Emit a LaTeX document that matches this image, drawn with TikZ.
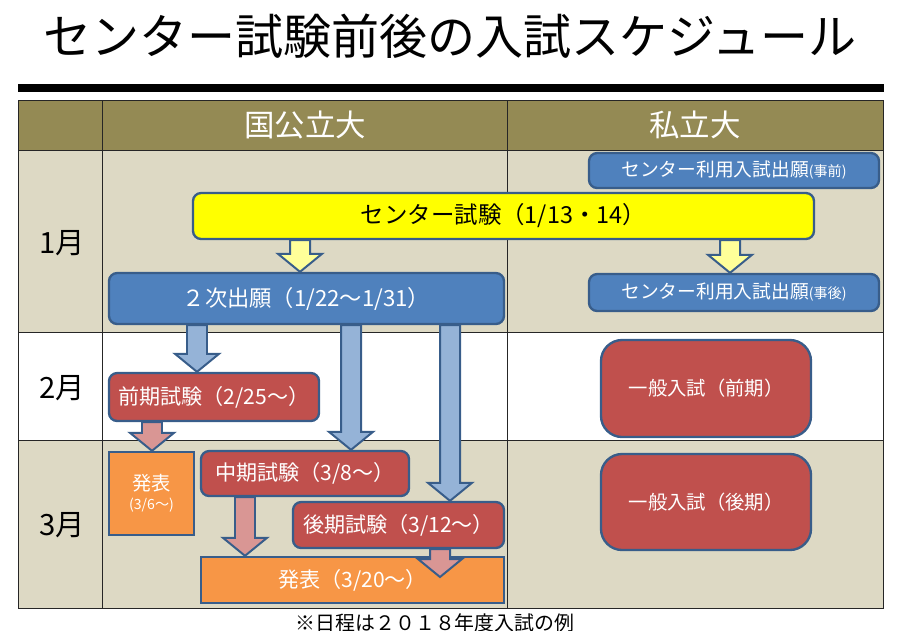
\documentclass[tikz,border=0pt]{standalone}
\usepackage{fontspec}
\setmainfont{Noto Sans CJK JP}
\usepackage{tikz}
\usetikzlibrary{calc}
\definecolor{headolive}{HTML}{948A54}
\definecolor{rowtan}{HTML}{DDD9C4}
\definecolor{boxline}{HTML}{385D8A}
\definecolor{bluebox}{HTML}{4F81BD}
\definecolor{redbox}{HTML}{C0504D}
\definecolor{orangebox}{HTML}{F79646}
\definecolor{yellowbox}{HTML}{FFFF00}
\definecolor{bluearrow}{HTML}{95B3D7}
\definecolor{pinkarrow}{HTML}{D99694}
\definecolor{yellowarrow}{HTML}{FFFF99}
\definecolor{gridline}{HTML}{262626}
% fat block arrow: fill, x, from, to
\newcommand{\fatarrow}[4]{%
  \filldraw[fill=#1, draw=boxline, line width=1.7pt]
    (#2-10,0 |- #3) -- (#2+10,0 |- #3) -- ($(#2+10,0 |- #4)+(0,-18)$)
    -- ($(#2+22,0 |- #4)+(0,-18)$) -- (#2,0 |- #4)
    -- ($(#2-22,0 |- #4)+(0,-18)$) -- ($(#2-10,0 |- #4)+(0,-18)$) -- cycle;}

\begin{document}
\begin{tikzpicture}[x=0.03cm, y=-0.03cm,
    box/.style={draw=boxline, line width=2pt, rounded corners=7pt, text=white, inner sep=0pt},
    bluebx/.style={box, fill=bluebox},
    redbx/.style={box, fill=redbox},
    orangebx/.style={box, fill=orangebox, rounded corners=0pt},
    month/.style={font=\fontsize{25}{28}\selectfont},
    head/.style={font=\fontsize{26}{28}\selectfont, text=white},
    txt/.style={font=\fontsize{18}{20}\selectfont}]
  \useasboundingbox (0,0) rectangle (900,630);

  % title and bar
  \node[font=\fontsize{41}{44}\selectfont] (title) at (450,36) {センター試験前後の入試スケジュール};
  \fill (18,84) rectangle (884,92);

  % table
  \fill[headolive] (18,100) rectangle (883,150);
  \fill[rowtan] (18,150) rectangle (883,332);
  \fill[rowtan] (18,440) rectangle (883,608);
  \draw[gridline, line width=0.6pt] (18,100) rectangle (883,608)
    (102,100) -- (102,608) (507,100) -- (507,608)
    (18,150) -- (883,150) (18,332) -- (883,332) (18,440) -- (883,440);
  \node[head] (kokkoritsu) at (305,125) {国公立大};
  \node[head] (shiritsu) at (695,125) {私立大};
  \node[month] (jan) at (62,243) {1月};
  \node[month] (feb) at (62,388) {2月};
  \node[month] (mar) at (62,525) {3月};

  % boxes
  \node[bluebx, minimum width=8.7cm, minimum height=1.05cm,
    font=\fontsize{16}{18}\selectfont] (pre) at (734,170.5)
    {センター利用入試出願{\fontsize{12}{12}\selectfont(事前)}};
  \node[box, fill=yellowbox, text=black, minimum width=18.63cm, minimum height=1.38cm,
    font=\fontsize{20}{22}\selectfont] (centre) at (503.5,216) {センター試験（1/13・14）};
  \node[bluebx, minimum width=8.7cm, minimum height=1.11cm,
    font=\fontsize{16}{18}\selectfont] (post) at (734,292.5)
    {センター利用入試出願{\fontsize{12}{12}\selectfont(事後)}};
  \node[bluebx, minimum width=11.85cm, minimum height=1.53cm,
    font=\fontsize{19}{21}\selectfont] (jiji) at (306.5,298.5) {２次出願（1/22〜1/31）};
  \node[redbx, txt, minimum width=6.3cm, minimum height=1.44cm] (zenki) at (214,397) {前期試験（2/25〜）};
  \node[orangebx, minimum width=2.55cm, minimum height=2.49cm, align=center,
    font=\fontsize{16.5}{18}\selectfont] (happyo1) at (151.5,493.5)
    {発表\\[-2pt]{\fontsize{12}{14}\selectfont(3/6〜)}};
  \node[redbx, txt, minimum width=6.24cm, minimum height=1.35cm] (chuki) at (305,473.5) {中期試験（3/8〜）};
  \node[redbx, txt, minimum width=6.33cm, minimum height=1.38cm] (koki) at (398.5,525) {後期試験（3/12〜）};
  \node[orangebx, txt, minimum width=9.09cm, minimum height=1.38cm] (happyo2) at (352.5,580) {発表（3/20〜）};
  \node[redbx, rounded corners=18pt, minimum width=6.3cm, minimum height=2.91cm,
    font=\fontsize{16.5}{18}\selectfont] (ippanA) at (706,388.5) {一般入試（前期）};
  \node[redbx, rounded corners=18pt, minimum width=6.3cm, minimum height=2.88cm,
    font=\fontsize{16.5}{18}\selectfont] (ippanB) at (706,502) {一般入試（後期）};

  % arrows
  \coordinate (p3tip) at (440,577);
  \fatarrow{yellowarrow}{300}{centre.south}{jiji.north}
  \fatarrow{yellowarrow}{730}{centre.south}{post.north}
  \fatarrow{bluearrow}{197}{jiji.south}{zenki.north}
  \fatarrow{bluearrow}{351}{jiji.south}{chuki.north}
  \fatarrow{bluearrow}{450}{jiji.south}{koki.north}
  \fatarrow{pinkarrow}{152}{zenki.south}{happyo1.north}
  \fatarrow{pinkarrow}{245}{chuki.south}{happyo2.north}
  \fatarrow{pinkarrow}{440}{koki.south}{p3tip}

  % note (cut by the page edge)
  \node[anchor=north, inner sep=0pt, font=\fontsize{17}{19}\selectfont] (note) at (435,613)
    {※日程は２０１８年度入試の例};
\end{tikzpicture}
\end{document}
